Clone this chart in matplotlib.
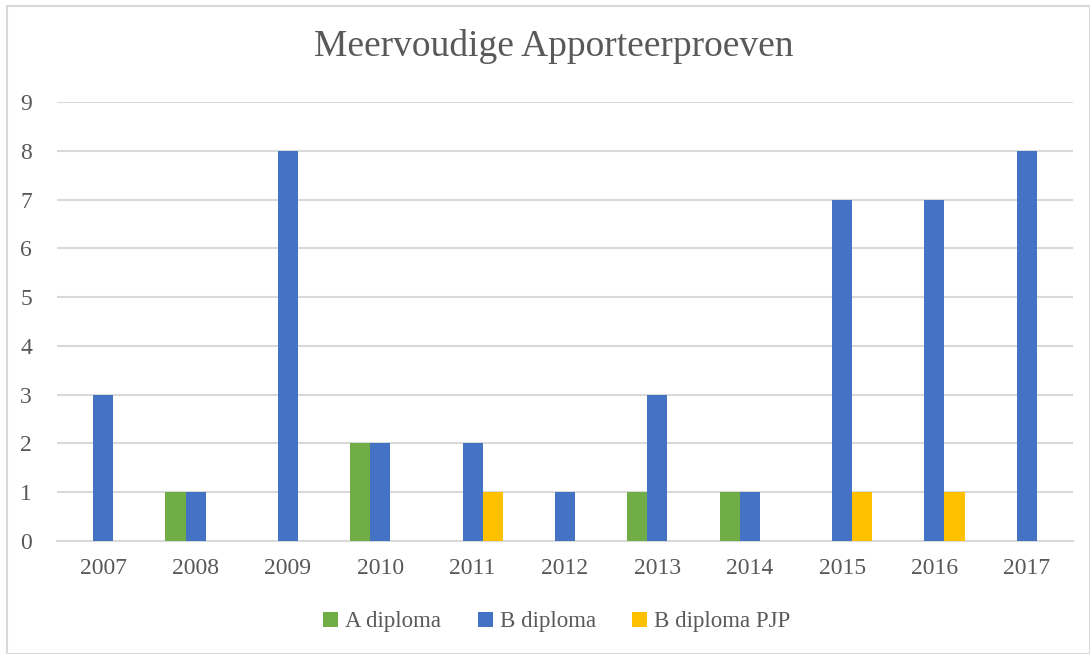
import matplotlib.pyplot as plt
import numpy as np
from matplotlib.patches import Rectangle

years = ['2007', '2008', '2009', '2010', '2011', '2012', '2013', '2014', '2015', '2016', '2017']
a_diploma = [0, 1, 0, 2, 0, 0, 1, 1, 0, 0, 0]
b_diploma = [3, 1, 8, 2, 2, 1, 3, 1, 7, 7, 8]
b_diploma_pjp = [0, 0, 0, 0, 1, 0, 0, 0, 1, 1, 0]

series = [('A diploma', a_diploma, '#70AD47'),
          ('B diploma', b_diploma, '#4472C4'),
          ('B diploma PJP', b_diploma_pjp, '#FFC000')]

plt.rcParams['font.family'] = ['Liberation Serif', 'DejaVu Serif']
text_color = '#595959'

fig = plt.figure(figsize=(10.9, 6.54), dpi=100)
# light chart border
fig.patches.append(Rectangle((7 / 1090, 0), 1 - 7 / 1090, 1 - 6 / 654, transform=fig.transFigure,
                             fill=False, edgecolor='#D9D9D9', linewidth=1.5))

ax = fig.add_axes([57 / 1090, 1 - 541 / 654, (1073 - 57) / 1090, (541 - 102) / 654])

x = np.arange(len(years))
width = 0.217
for i, (label, vals, color) in enumerate(series):
    ax.bar(x + (i - 1) * width, vals, width, color=color, label=label,
           linewidth=0, zorder=3)

ax.set_xlim(-0.5, len(years) - 0.5)
ax.set_ylim(0, 9)
ax.set_yticks(range(10))
ax.set_xticks(x)
ax.set_xticklabels(years)
ax.yaxis.grid(True, color='#D9D9D9', linewidth=1.5, zorder=0)
ax.set_axisbelow(True)
for s in ['top', 'right', 'left']:
    ax.spines[s].set_visible(False)
ax.spines['bottom'].set_color('#D9D9D9')
ax.spines['bottom'].set_linewidth(1.5)
ax.tick_params(axis='both', length=0, labelsize=17, colors=text_color)
ax.tick_params(axis='x', pad=12)
ax.tick_params(axis='y', pad=18)

fig.text(554 / 1090, 1 - 47 / 654, 'Meervoudige Apporteerproeven', ha='center', va='center',
         fontsize=27, color=text_color)

fig.legend(loc='center', bbox_to_anchor=(557 / 1090, 1 - 622 / 654), ncol=3, frameon=False,
           fontsize=16.5, labelcolor=text_color, handlelength=0.65, handleheight=0.65,
           handletextpad=0.3, columnspacing=1.6)

fig.savefig('out.png', dpi=100)
